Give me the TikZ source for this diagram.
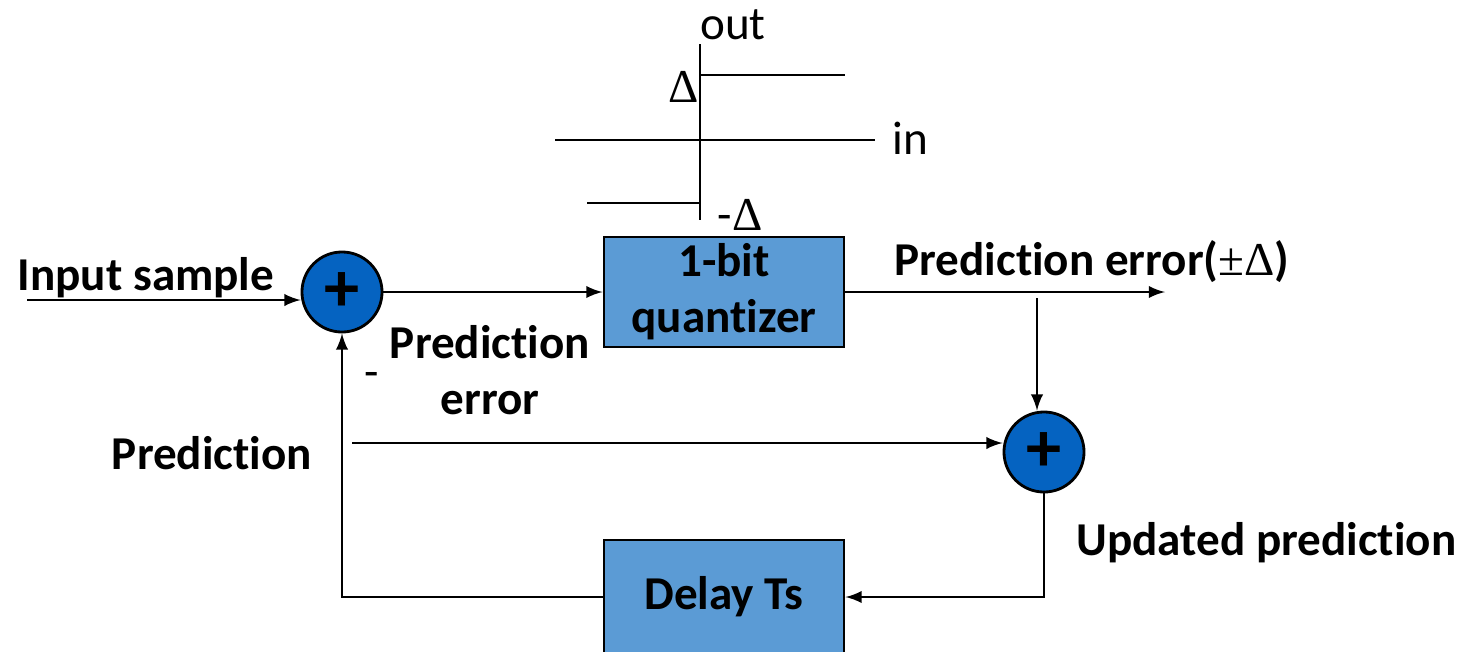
\documentclass[tikz,border=0pt]{standalone}
\usepackage{fontspec}
\setmainfont{Carlito}[Ligatures=NoCommon]
\newfontfamily\symfont{Liberation Serif}
\usetikzlibrary{positioning}
\definecolor{boxblue}{RGB}{91,155,213}
\definecolor{sumblue}{RGB}{5,99,193}

\begin{document}
\begin{tikzpicture}[x=0.01cm, y=-0.01cm,
            every node/.style={font=\fontsize{13.4}{16}\selectfont},
            block/.style={rectangle, draw, thick, fill=boxblue, inner sep=1pt, minimum width=2.4cm, minimum height=1.1cm, align=center, font=\fontsize{13.4}{16}\selectfont\bfseries},
            adder/.style={circle, draw, thick, fill=sumblue, minimum size=0.8cm, inner sep=0pt, font=\fontsize{20}{24}\selectfont\bfseries},
            lbl/.style={align=center, font=\fontsize{13.4}{16}\selectfont\bfseries},
            paths/.style={semithick, -latex}
        ]
            \useasboundingbox (0,0) rectangle (1463,651);

            % Nodes
            \node[adder] (sum1) at (342,292) {+};
            \node[block] (quant) at (724,292) {1-bit\\quantizer};
            \node[adder] (sum2) at (1044,452) {+};
            \node[block, minimum height=1.14cm] (delay) at (724,597) {Delay Ts};

            % Labels
            \node[lbl] (insample) at (146,278) {Input sample};
            \node[lbl] (prederr) at (490,370) {Prediction\\error};
            \node (minus) at (372,380) {-};
            \node[lbl] (pred) at (212,453) {Prediction};
            \node[lbl, anchor=west] (qout) at (882,262) {Prediction error({\symfont\mdseries ±Δ})};
            \node[lbl, anchor=west] (upd) at (1064,543) {Updated prediction};

            % Free ends
            \coordinate (start) at (27,300);
            \coordinate (qend) at (1165,292);
            \coordinate (tap) at (1037,298);
            \coordinate (pstart) at (352,443);

            % Paths: forward
            \draw[paths] (start) -- (start -| sum1.west);
            \draw[paths] (sum1) -- (quant);
            \draw[paths] (quant) -- (qend);
            \draw[paths] (tap) -- (tap |- sum2.north);
            \draw[paths] (pstart) -- (pstart -| sum2.west);

            % Paths: feedback
            \draw[paths] (sum2) |- (delay);
            \draw[paths] (delay) -| (sum1);

            % Quantizer characteristic
            \coordinate (ax-top) at (700,44);
            \coordinate (ax-bot) at (700,220);
            \coordinate (in-left) at (555,140);
            \coordinate (in-right) at (875,140);
            \draw[thick] (ax-top) -- (ax-bot);
            \draw[semithick] (in-left) -- (in-right);
            \draw[semithick] (700,75) -- (845,75);
            \draw[semithick] (587,203) -- (700,203);
            \node (out) at (733,25) {out};
            \node (delta) at (684,87) {\symfont Δ};
            \node (in) at (910,138) {in};
            \node (mdelta) at (740,215) {-{\symfont Δ}};
        \end{tikzpicture}
\end{document}
